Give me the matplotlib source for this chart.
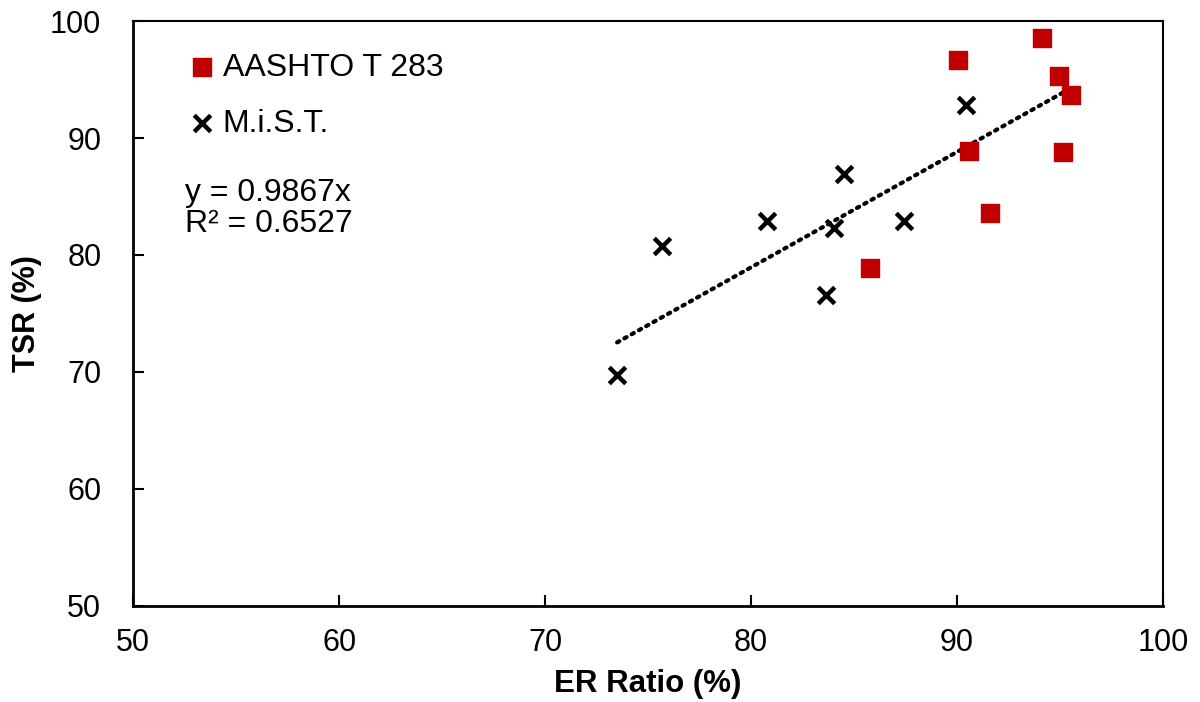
import numpy as np
import matplotlib
matplotlib.use('Agg')
import matplotlib.pyplot as plt

plt.rcParams['font.family'] = ['Liberation Sans', 'DejaVu Sans']

# AASHTO T 283 points
aashto_er  = [90.05, 94.13, 94.95, 95.53, 90.58, 95.15, 91.60, 85.78]
aashto_tsr = [96.67, 98.55, 95.30, 93.70, 88.90, 88.80, 83.60, 78.90]

# M.i.S.T. points
mist_er  = [90.44, 84.51, 80.78, 84.03, 87.43, 75.68, 83.64, 73.50]
mist_tsr = [92.80, 86.90, 82.90, 82.30, 82.90, 80.80, 76.60, 69.70]

slope = 0.9867
r2    = 0.6527

fig = plt.figure(figsize=(12, 7.02), dpi=100)
ax  = fig.add_axes([0.111, 0.137, 0.858, 0.833])

ax.scatter(aashto_er, aashto_tsr, marker='s', s=150, color='#c00000', label='AASHTO T 283', zorder=3)
ax.scatter(mist_er, mist_tsr, marker='x', s=140, color='black', linewidths=3.2, label='M.i.S.T.', zorder=3)

all_x = np.array(aashto_er + mist_er)
xs = np.array([all_x.min(), all_x.max()])
ax.plot(xs, slope * xs, color='black', linestyle=(0, (0.6, 1.4)), linewidth=3, dash_capstyle='round', zorder=2)

ax.text(52.5, 84.0, f'y = {slope}x\nR² = {r2}', fontsize=23, va='center', ha='left', linespacing=1.05)

ax.set_xlim(50, 100)
ax.set_ylim(50, 100)
ax.set_xticks(range(50, 101, 10))
ax.set_yticks(range(50, 101, 10))
ax.tick_params(direction='in', length=8, width=1.5, labelsize=22)
ax.tick_params(axis='x', pad=16)
ax.tick_params(axis='y', pad=23)
ax.set_xlabel('ER Ratio (%)', fontsize=22.5, fontweight='bold', labelpad=8)
ax.set_ylabel('TSR (%)', fontsize=22, fontweight='bold', labelpad=6)

for side in ['left', 'bottom']:
    ax.spines[side].set_linewidth(2)
for side in ['top', 'right']:
    ax.spines[side].set_linewidth(1.5)

leg = ax.legend(loc='upper left', bbox_to_anchor=(0.034, 0.968), frameon=False, fontsize=23,
                handletextpad=0.0, labelspacing=0.82, borderaxespad=0, handlelength=1.3)

fig.savefig('out.png', dpi=100)
